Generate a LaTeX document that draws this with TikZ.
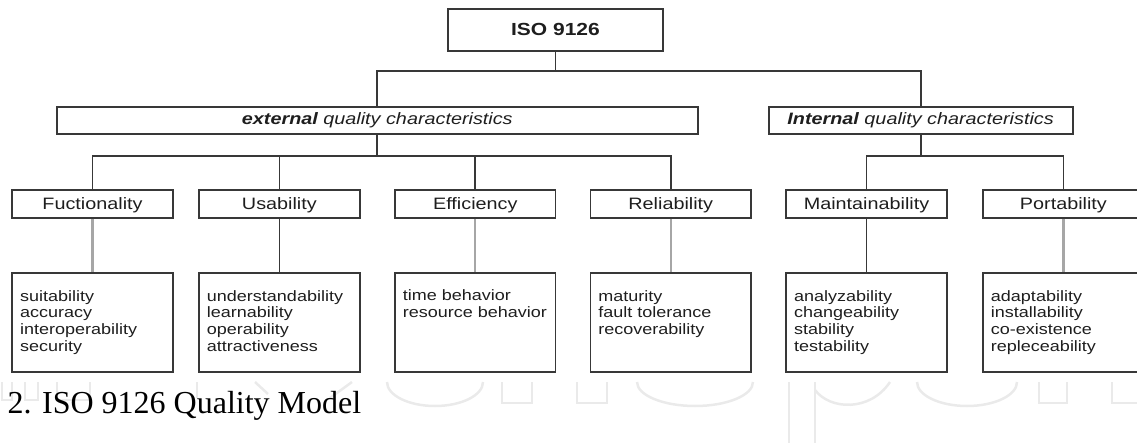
\documentclass[tikz,border=0pt]{standalone}
\usepackage{fontspec}
\newfontfamily\figfont{Liberation Sans}[FakeStretch=1.2]
\newfontfamily\capfont{Liberation Serif}
\definecolor{boxline}{HTML}{383838}
\definecolor{lightline}{HTML}{A6A6A6}
\definecolor{txt}{HTML}{1E1E1E}
\definecolor{wm}{HTML}{EAEAEA}
\begin{document}
\begin{tikzpicture}[x=1pt,y=-1pt,
  box/.style={draw=boxline, line width=1.8pt, rectangle, inner sep=0pt, text=txt,
    font=\figfont\fontsize{16.5}{19}\selectfont},
  catbox/.style={box, minimum width=160.5, minimum height=28, text height=13, text depth=2.4},
  detbox/.style={box, minimum width=160.5, minimum height=98.4},
  dettext/.style={anchor=north west, inner sep=0pt, align=left, text=txt,
    font=\figfont\fontsize{15}{16.7}\selectfont},
  conn/.style={draw=boxline, line width=1.8pt},
  lconn/.style={draw=lightline, line width=2.2pt},
  wmark/.style={draw=wm, line width=2.5pt}
]
\useasboundingbox (0,0) rectangle (1137,443);

% faint watermark
\draw[wmark] (2,382) -- (2,400) -- (12,400) -- (12,382);
\draw[wmark] (25,382) -- (25,400) -- (38,400) -- (38,382);
\draw[wmark] (57,382) -- (57,400) -- (90,400) -- (90,382);
\draw[wmark] (197,382) -- (197,398);
\draw[wmark] (255,382) -- (268,394);
\draw[wmark] (352,382) -- (330,398);
\draw[wmark] (387,382) arc[start angle=180, end angle=0, x radius=48, y radius=24];
\draw[wmark] (502,382) -- (502,403) -- (532,403) -- (532,382);
\draw[wmark] (577,382) -- (577,403) -- (607,403) -- (607,382);
\draw[wmark] (637,382) arc[start angle=180, end angle=0, x radius=58, y radius=24];
\draw[wmark] (789,382) -- (789,443);
\draw[wmark] (815,382) -- (815,443);
\draw[wmark] (815,390) .. controls (830,410) and (870,412) .. (890,382);
\draw[wmark] (917,382) arc[start angle=180, end angle=0, x radius=50, y radius=24];
\draw[wmark] (1039,382) -- (1039,403) -- (1067,403) -- (1067,382);
\draw[wmark] (1112,382) -- (1112,403) -- (1137,403);

% bus levels
\coordinate (bus1) at (0,71);
\coordinate (bus2) at (0,156);

% top
\node[box, minimum width=215, minimum height=42, text height=13.5, text depth=2.1,
  font=\figfont\bfseries\fontsize{17.5}{20}\selectfont] (iso) at (555.5,30) {ISO 9126};

\node[box, minimum width=641.4, minimum height=27, text height=12, text depth=3] (ext) at (377.3,120.5)
  {\itshape{\bfseries external} quality characteristics};
\node[box, minimum width=304, minimum height=27, text height=12, text depth=3] (int) at (920.6,120.5)
  {\itshape{\bfseries Internal} quality characteristics};

% categories
\node[catbox] (f) at (92.5,204) {Fuctionality};
\node[catbox] (u) at (279.4,204) {Usability};
\node[catbox] (e) at (475.3,204) {Efficiency};
\node[catbox] (r) at (670.8,204) {Reliability};
\node[catbox] (m) at (866.5,204) {Maintainability};
\node[catbox] (p) at (1063.4,204) {Portability};

% detail boxes
\node[detbox] (df) at (92.5,322.5) {};
\node[detbox] (du) at (279.4,322.5) {};
\node[detbox] (de) at (475.3,322.5) {};
\node[detbox] (dr) at (670.8,322.5) {};
\node[detbox] (dm) at (866.5,322.5) {};
\node[detbox] (dp) at (1063.4,322.5) {};

\node[dettext] (tf) at ([xshift=8.5,yshift=-16.4]df.north west)
  {\rule{0pt}{12pt}suitability\\accuracy\\interoperability\\security};
\node[dettext] (tu) at ([xshift=8.5,yshift=-16.4]du.north west)
  {\rule{0pt}{12pt}understandability\\learnability\\operability\\attractiveness};
\node[dettext] (te) at ([xshift=8.5,yshift=-16.4]de.north west)
  {\rule{0pt}{12pt}time behavior\\resource behavior};
\node[dettext] (tr) at ([xshift=8.5,yshift=-16.4]dr.north west)
  {\rule{0pt}{12pt}maturity\\fault tolerance\\recoverability};
\node[dettext] (tm) at ([xshift=8.5,yshift=-16.4]dm.north west)
  {\rule{0pt}{12pt}analyzability\\changeability\\stability\\testability};
\node[dettext] (tp) at ([xshift=8.5,yshift=-16.4]dp.north west)
  {\rule{0pt}{12pt}adaptability\\installability\\co-existence\\repleceability};

% connectors top
\draw[conn] (iso.south) -- (iso.south |- bus1);
\draw[conn] (ext.north) |- (iso.south |- bus1) -| (int.north);

% external subtree
\draw[conn] (ext.south) -- (ext.south |- bus2);
\draw[conn] (f.north) |- (ext.south |- bus2) -| (r.north);
\draw[conn] (u.north) -- (u.north |- bus2);
\draw[conn] (e.north) -- (e.north |- bus2);

% internal subtree
\draw[conn] (int.south) -- (int.south |- bus2);
\draw[conn] (m.north) |- (int.south |- bus2) -| (p.north);

% category to detail
\draw[lconn] (f.south) -- (df.north);
\draw[conn] (u.south) -- (du.north);
\draw[lconn] (e.south) -- (de.north);
\draw[lconn] (r.south) -- (dr.north);
\draw[conn] (m.south) -- (dm.north);
\draw[lconn] (p.south) -- (dp.north);

% caption
\node[anchor=base west, inner sep=0pt, font=\capfont\fontsize{32}{38}\selectfont] (cap) at (7.3,413)
  {2. ISO 9126 Quality Model};
\end{tikzpicture}
\end{document}
